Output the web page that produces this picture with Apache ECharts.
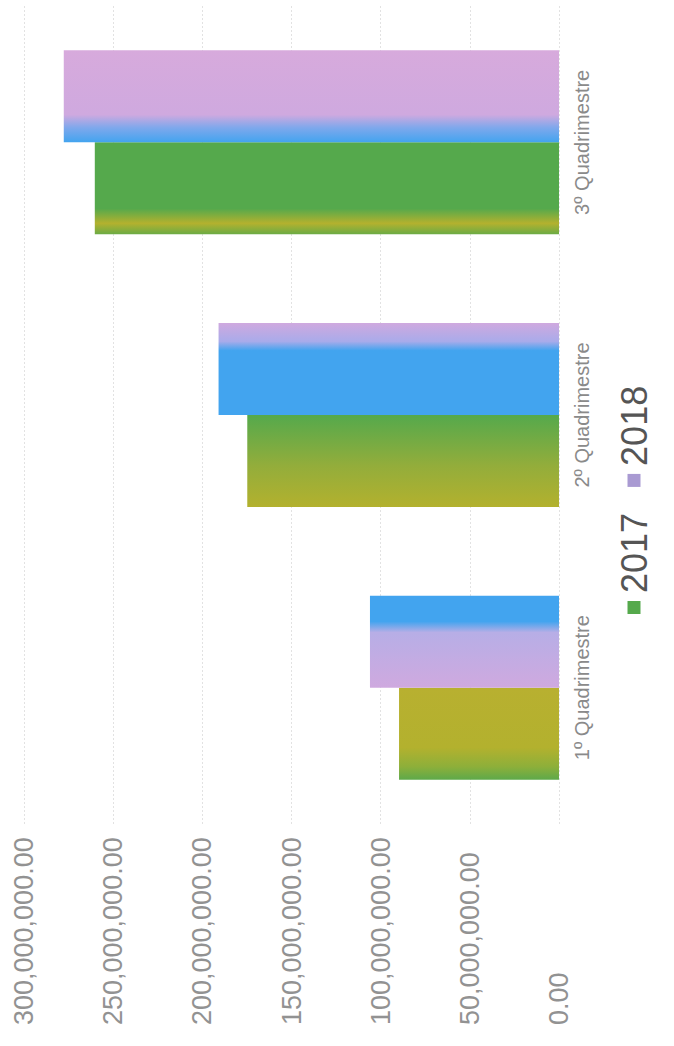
<!DOCTYPE html>
<html>
<head>
<meta charset="utf-8">
<script src="https://cdn.jsdelivr.net/npm/echarts@6/dist/echarts.min.js"></script>
<style>
  html, body { margin: 0; padding: 0; background: #fff; overflow: hidden; }
  /* the scan is turned a quarter turn to the left, so draw the chart landscape and rotate it */
  #chart {
    position: absolute; left: 0; top: 0;
    width: 1046px; height: 674px;
    transform-origin: 0 0;
    transform: translateY(1046px) rotate(-90deg);
  }
</style>
</head>
<body>
<div id="chart"></div>
<script>
const categories = ['1º Quadrimestre', '2º Quadrimestre', '3º Quadrimestre']
const years = ['2017', '2018']
const values2017 = [89700000, 174800000, 260300000]
const values2018 = [106000000, 190900000, 277700000]
const axisMin = 0
const axisMax = 300000000
const axisStep = 50000000

// scanner streaks on each bar (left -> right here is bottom -> top on screen)
const green = '#55a94c', olive = '#b3b12e', blue = '#42a4ef', lilac = '#cfa9df'
const stripes2017 = [
  [[0, '#5ea94a'], [0.14, '#8daf3a'], [0.35, olive], [1, '#b8b030']],
  [[0, olive], [0.45, '#93ad3b'], [1, green]],
  [[0, '#6aab45'], [0.12, olive], [0.28, green], [1, green]]
]
const stripes2018 = [
  [[0, lilac], [0.6, '#b7aee6'], [0.72, blue], [1, blue]],
  [[0, blue], [0.7, blue], [0.8, '#a9abea'], [1, lilac]],
  [[0, blue], [0.16, '#7fa8ec'], [0.3, lilac], [1, '#d7aadc']]
]

const grad = stops => new echarts.graphic.LinearGradient(0, 0, 1, 0,
  stops.map(s => ({ offset: s[0], color: s[1] })))

const fmt = v => v.toLocaleString('en-US', { minimumFractionDigits: 2, maximumFractionDigits: 2 })

const chart = echarts.init(document.getElementById('chart'), null, { renderer: 'svg' })

chart.setOption({
  backgroundColor: '#fff',
  animation: false,
  textStyle: { fontFamily: 'Liberation Sans, Arial, sans-serif' },
  grid: { left: 222, right: 6, top: 24, bottom: 115, containLabel: false },
  legend: {
    data: [
      { name: years[0], itemStyle: { color: green } },
      { name: years[1], itemStyle: { color: '#a99ad2' } }
    ],
    left: 427,
    top: 611,
    itemWidth: 13,
    itemHeight: 13,
    itemGap: 26,
    icon: 'rect',
    textStyle: { fontSize: 36, color: '#555', padding: [0, 0, 0, 3] }
  },
  xAxis: {
    type: 'category',
    data: categories,
    axisLine: { show: false },
    axisTick: { show: false },
    axisLabel: { margin: 13, fontSize: 20, color: '#8a8a8a' }
  },
  yAxis: {
    type: 'value',
    min: axisMin,
    max: axisMax,
    interval: axisStep,
    axisLine: { show: false },
    axisTick: { show: false },
    axisLabel: {
      align: 'left',
      margin: 201,
      fontSize: 27,
      color: '#929292',
      formatter: fmt
    },
    splitLine: { lineStyle: { color: '#e2e2e2', type: [2, 2] } }
  },
  series: [
    {
      name: years[0],
      type: 'bar',
      barWidth: 92,
      barGap: '0%',
      data: values2017.map((v, i) => ({ value: v, itemStyle: { color: grad(stripes2017[i]) } }))
    },
    {
      name: years[1],
      type: 'bar',
      barWidth: 92,
      data: values2018.map((v, i) => ({ value: v, itemStyle: { color: grad(stripes2018[i]) } }))
    }
  ]
})
</script>
</body>
</html>
